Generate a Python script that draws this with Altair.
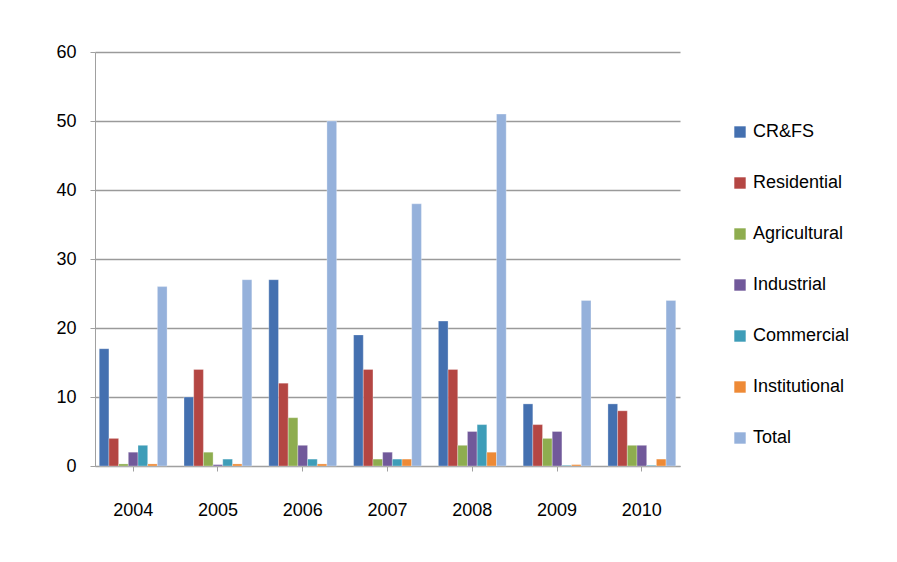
import pandas as pd
import altair as alt

years = ["2004", "2005", "2006", "2007", "2008", "2009", "2010"]
series = ["CR&FS", "Residential", "Agricultural", "Industrial", "Commercial", "Institutional", "Total"]
colors = ["#4470b0", "#b44643", "#8ead4f", "#71599a", "#3e9db8", "#ee8a36", "#95b1db"]
values = {
    "CR&FS":         [17, 10, 27, 19, 21, 9, 9],
    "Residential":   [4, 14, 12, 14, 14, 6, 8],
    "Agricultural":  [0.3, 2, 7, 1, 3, 4, 3],
    "Industrial":    [2, 0.2, 3, 2, 5, 5, 3],
    "Commercial":    [3, 1, 1, 1, 6, 0.1, 0.1],
    "Institutional": [0.3, 0.3, 0.3, 1, 2, 0.2, 1],
    "Total":         [26, 27, 50, 38, 51, 24, 24],
}

rows = [{"Year": y, "Series": s, "Value": values[s][i]}
        for s in series for i, y in enumerate(years)]
df = pd.DataFrame(rows)

chart = (
    alt.Chart(df)
    .mark_bar(stroke="#ffffff", strokeWidth=0.3)
    .encode(
        x=alt.X("Year:N", title=None, sort=years,
                scale=alt.Scale(paddingInner=0.2, paddingOuter=0.05),
                axis=alt.Axis(labelAngle=0, labelPadding=30, labelFontSize=18,
                              domainColor="#a0a0a0", tickColor="#a0a0a0")),
        xOffset=alt.XOffset("Series:N", sort=series),
        y=alt.Y("Value:Q", title=None, scale=alt.Scale(domain=[0, 60]),
                axis=alt.Axis(values=[0, 10, 20, 30, 40, 50, 60], labelFontSize=18,
                              labelPadding=14, gridColor="#9a9a9a", gridWidth=1.5,
                              domainColor="#a0a0a0", tickColor="#a0a0a0")),
        color=alt.Color("Series:N", sort=series,
                        scale=alt.Scale(domain=series, range=colors),
                        legend=alt.Legend(title=None, labelFontSize=18, symbolType="square",
                                          symbolSize=130, rowPadding=33, orient="none",
                                          legendX=636, legendY=71,
                                          symbolStrokeWidth=0)),
    )
    .properties(width=585, height=414, padding={"left": 47, "top": 35, "right": 5, "bottom": 5})
    .configure(font="Liberation Sans")
    .configure_view(stroke=None)
    .configure_axis(labelColor="#000000")
    .configure_legend(labelColor="#000000")
)

chart.save("out.html", embed_options={"renderer": "svg", "actions": False})
